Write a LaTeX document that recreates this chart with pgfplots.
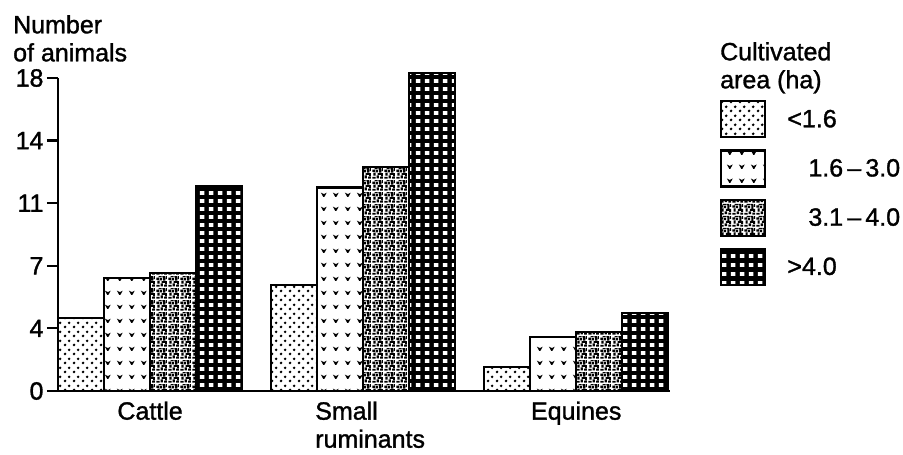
\documentclass[border=0pt]{standalone}
\usepackage{fontspec}
\setmainfont{Liberation Sans}[RawFeature={embolden=1.3}]
\usepackage{pgfplots}
\pgfplotsset{compat=1.18}
\usetikzlibrary{patterns}

% sparse dots (<1.6)
\pgfdeclarepatternformonly{sparsedots}{\pgfqpoint{0pt}{0pt}}{\pgfqpoint{9pt}{9pt}}{\pgfqpoint{9pt}{9pt}}{%
  \pgfpathcircle{\pgfqpoint{2.25pt}{2.25pt}}{1.6pt}%
  \pgfpathcircle{\pgfqpoint{6.75pt}{6.75pt}}{1.6pt}%
  \pgfusepath{fill}}
% v marks (1.6-3.0)
\pgfdeclarepatternformonly{vmarks}{\pgfqpoint{0pt}{0pt}}{\pgfqpoint{11.5pt}{14pt}}{\pgfqpoint{11.5pt}{14pt}}{%
  \pgfpathmoveto{\pgfqpoint{2pt}{11pt}}%
  \pgfpathlineto{\pgfqpoint{5pt}{9.5pt}}%
  \pgfpathlineto{\pgfqpoint{8pt}{11pt}}%
  \pgfpathlineto{\pgfqpoint{5.6pt}{6.5pt}}%
  \pgfpathlineto{\pgfqpoint{4.4pt}{6.5pt}}%
  \pgfpathclose
  \pgfusepath{fill}}
% speckle (3.1-4.0)
\pgfdeclarepatternformonly{speckle}{\pgfqpoint{0pt}{0pt}}{\pgfqpoint{12pt}{12pt}}{\pgfqpoint{12pt}{12pt}}{%
  \pgfpathrectangle{\pgfqpoint{0.3pt}{0.3pt}}{\pgfqpoint{3.5pt}{2pt}}%
  \pgfpathrectangle{\pgfqpoint{5pt}{0.8pt}}{\pgfqpoint{2.5pt}{3pt}}%
  \pgfpathrectangle{\pgfqpoint{8.8pt}{0.3pt}}{\pgfqpoint{3pt}{2.2pt}}%
  \pgfpathrectangle{\pgfqpoint{1.6pt}{3.6pt}}{\pgfqpoint{2.2pt}{3.4pt}}%
  \pgfpathrectangle{\pgfqpoint{6.2pt}{4.4pt}}{\pgfqpoint{3.5pt}{2pt}}%
  \pgfpathrectangle{\pgfqpoint{9.8pt}{3.2pt}}{\pgfqpoint{2pt}{3.2pt}}%
  \pgfpathrectangle{\pgfqpoint{0.3pt}{7.8pt}}{\pgfqpoint{3pt}{2.4pt}}%
  \pgfpathrectangle{\pgfqpoint{4.2pt}{7.2pt}}{\pgfqpoint{2.4pt}{2.6pt}}%
  \pgfpathrectangle{\pgfqpoint{7.8pt}{6.8pt}}{\pgfqpoint{2.2pt}{3.4pt}}%
  \pgfpathrectangle{\pgfqpoint{2.8pt}{10.6pt}}{\pgfqpoint{3.4pt}{1.2pt}}%
  \pgfpathrectangle{\pgfqpoint{6.8pt}{10.4pt}}{\pgfqpoint{3pt}{1.4pt}}%
  \pgfpathrectangle{\pgfqpoint{10.6pt}{8.6pt}}{\pgfqpoint{1.2pt}{3pt}}%
  \pgfusepath{fill}}
% white rectangles on black (>4.0)
\pgfdeclarepatternformonly{whiterects}{\pgfqpoint{0pt}{0pt}}{\pgfqpoint{9pt}{8.4pt}}{\pgfqpoint{9pt}{8.4pt}}{%
  \pgfpathrectangle{\pgfqpoint{2pt}{2.2pt}}{\pgfqpoint{5pt}{4pt}}%
  \pgfusepath{fill}}

\pgfplotstableread{
cat  a    b    c    d
0    4.2  6.5  6.8  11.8
1    6.1  11.7 12.9 18.3
2    1.4  3.1  3.4  4.5
}\animals

\begin{document}
\begin{tikzpicture}[font=\fontsize{25}{28}\selectfont]
\useasboundingbox (-58pt,-64pt) rectangle (845pt,391pt);
\begin{axis}[
  at={(0pt,0pt)}, anchor=south west,
  scale only axis, width=612pt, height=313pt,
  xmin=-0.432, xmax=2.44, ymin=0, ymax=18,
  clip=false,
  axis x line*=bottom, axis y line*=left,
  axis line style={line width=2.2pt, -},
  ytick={0,3.6,7.2,10.8,14.4,18},
  yticklabels={0,4,7,11,14,18},
  xtick={0,1,2},
  xticklabels={Cattle,{\hspace*{14pt}Small\\\hspace*{14pt}ruminants},Equines},
  xticklabel style={align=left, yshift=4pt},
  xtick style={draw=none},
  ytick style={line width=2.2pt, black},
  tick align=outside, major tick length=11pt,
  tick label style={font=\fontsize{25}{28}\selectfont},
  /pgf/number format/assume math mode=true,
  ybar, bar width=0.216,
  every axis plot/.append style={draw=black, line width=2.2pt},
  legend style={at={(1.0817,0.9297)}, anchor=north west, draw=none, fill=none,
    inner sep=0pt, row sep=11pt, column sep=21pt,
    font=\fontsize{25}{28}\selectfont, nodes={inner sep=0pt}},
  legend cell align=left,
  legend image code/.code={\draw[#1,/tikz/.cd,line width=2.2pt] (0pt,-18pt) rectangle (44pt,18pt);},
]
\addplot[bar shift=-0.324, fill=white, pattern=sparsedots] table[x=cat,y=a]{\animals};
\addplot[bar shift=-0.108, fill=white, pattern=vmarks] table[x=cat,y=b]{\animals};
\addplot[bar shift=0.108, fill=white, pattern=speckle] table[x=cat,y=c]{\animals};
\addplot[bar shift=0.324, fill=black, postaction={pattern=whiterects, pattern color=white}] table[x=cat,y=d]{\animals};
\legend{{<1.6},{\hspace*{21pt}1.6\,–\,3.0},{\hspace*{21pt}3.1\,–\,4.0},{>4.0}}
\end{axis}
\node[anchor=north west, align=left, inner sep=0pt] at (-45pt,376pt) {Number\\of animals};
\node[anchor=north west, align=left, inner sep=0pt] at (662pt,349pt) {Cultivated\\area (ha)};
\end{tikzpicture}
\end{document}
